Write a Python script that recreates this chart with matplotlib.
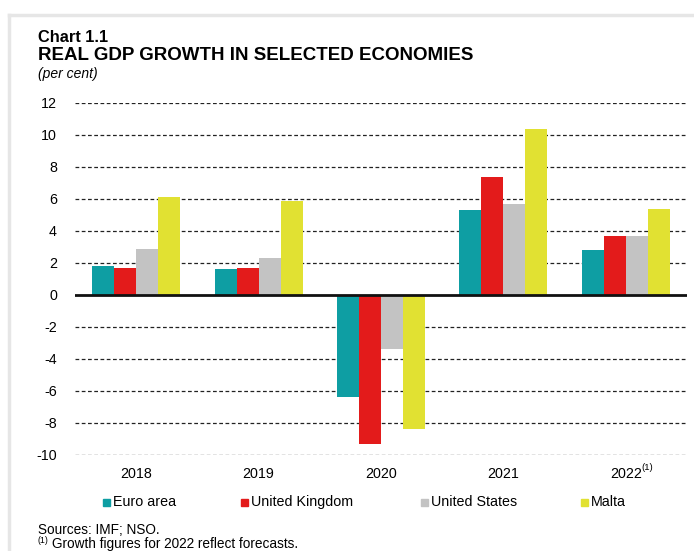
import matplotlib
matplotlib.use("Agg")
import matplotlib.pyplot as plt
import matplotlib.patches as mpatches
from matplotlib.lines import Line2D
import numpy as np

plt.rcParams['font.family'] = ['Liberation Sans', 'DejaVu Sans']

years = ["2018", "2019", "2020", "2021", "2022"]
footnote_year = "2022"
series = ["Euro area", "United Kingdom", "United States", "Malta"]
euro_area = [1.8, 1.6, -6.4, 5.3, 2.8]
united_kingdom = [1.7, 1.7, -9.3, 7.4, 3.7]
united_states = [2.9, 2.3, -3.4, 5.7, 3.7]
malta = [6.1, 5.9, -8.4, 10.4, 5.4]
colors = ["#0E9EA3", "#E31B1B", "#C3C3C3", "#E1E132"]
yticks = [12, 10, 8, 6, 4, 2, 0, -2, -4, -6, -8, -10]

W, H = 694, 551
fig = plt.figure(figsize=(W / 100, H / 100), dpi=100)

def fx(px):
    return px / W

def fy(py):
    return 1 - py / H

# frame lines
fig.add_artist(Line2D([fx(9), fx(9)], [fy(15), 0], color="#E6E6E6", lw=2.5))
fig.add_artist(Line2D([fx(9), 1], [fy(15), fy(15)], color="#E6E6E6", lw=2.5))

ax = fig.add_axes([fx(75), fy(455), fx(687) - fx(75), fy(103) - fy(455)])
ax.set_ylim(-10, 12)
ax.set_xlim(-0.5, len(years) - 0.5)

data = [euro_area, united_kingdom, united_states, malta]
x = np.arange(len(years))
bw = 0.18
for i, (vals, c) in enumerate(zip(data, colors)):
    ax.bar(x + (i - 1.5) * bw, vals, width=bw, color=c, zorder=3, label=series[i])

for t in yticks:
    if t != 0:
        ax.axhline(t, color="#222222", lw=0.9, ls=(0, (3, 2)), zorder=1)
ax.axhline(0, color="#111111", lw=2, zorder=4)

for s in ax.spines.values():
    s.set_visible(False)
ax.set_yticks(yticks)
ax.set_yticklabels([str(t) for t in yticks])
ax.tick_params(axis='y', length=0, pad=13, labelsize=10.3)
ax.set_xticks(x)
ax.set_xticklabels(years)
ax.tick_params(axis='x', length=0, pad=9, labelsize=10.3)
# footnote marker on the 2022 label
fi = years.index(footnote_year)
ax.annotate("(1)", xy=(fi, 0), xycoords=ax.get_xaxis_transform(),
            xytext=(11.5, -9), textcoords='offset points', fontsize=6.8,
            ha='left', va='center')

# legend (manual)
leg_x = [103, 241, 421, 581]
for lx, c, name in zip(leg_x, colors, series):
    fig.add_artist(mpatches.Rectangle((fx(lx), fy(506)), fx(7), 7 / H, color=c,
                                      transform=fig.transFigure))
    fig.text(fx(lx + 10), fy(502), name, fontsize=10.3, va='center', ha='left')

# titles
fig.text(fx(38), fy(38), "Chart 1.1", fontsize=11.8, fontweight='bold', va='center')
fig.text(fx(38), fy(56), "REAL GDP GROWTH IN SELECTED ECONOMIES", fontsize=13.5,
         fontweight='bold', va='center')
fig.text(fx(38), fy(74), "(per cent)", fontsize=10, style='italic', va='center')

# footer
fig.text(fx(38), fy(530), "Sources: IMF; NSO.", fontsize=9.8, va='center')
fig.text(fx(38), fy(540.5), "(1)", fontsize=6.3, va='center')
fig.text(fx(52), fy(544), "Growth figures for 2022 reflect forecasts.",
         fontsize=9.8, va='center')

fig.savefig("out.png", dpi=100)
